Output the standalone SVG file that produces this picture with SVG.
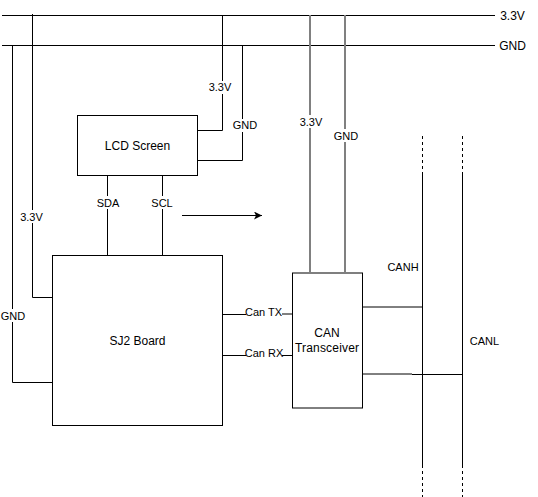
<svg xmlns="http://www.w3.org/2000/svg" width="538" height="497" viewBox="0 0 538 497">
<style>
.w{fill:none;stroke:#000;stroke-width:1}
.g{fill:none;stroke:#808080;stroke-width:2}
.d{fill:none;stroke:#000;stroke-width:1;stroke-dasharray:3 3}
.n{fill:#fff;stroke:#000;stroke-width:1}
text{font-family:"Liberation Sans",Arial,sans-serif;font-size:11px;fill:#000;text-anchor:middle}
.l{font-size:12px}
.bg{fill:#fff;stroke:none}
</style>
<defs><marker id="a" markerUnits="userSpaceOnUse" markerWidth="9" markerHeight="8" refX="8" refY="4" orient="auto"><path d="M0 0L8 4L0 8L2 4Z" fill="#000"/></marker></defs>
<rect width="538" height="497" fill="#fff"/>
<g id="connectors">
<path class="w" d="M2 15.500H495M2 45.500H495"/>
<path class="w" d="M32.500 14V297.500H52M12.500 45.500V382.500H52"/>
<path class="w" d="M222.500 15V130.500H197M242.500 45V160.500H197"/>
<path class="w" d="M107.500 175V255M162.500 175V255"/>
<path class="w" d="M182 215.500H262" marker-end="url(#a)"/>
<path class="g" d="M310 15V272M345 15V272"/>
<path class="w" d="M222 314.500H246M222 355.500H292"/>
<path class="w" d="M282 314H292"/>
<path class="w" d="M422.500 172V465M462.500 172V465"/>
<path class="d" d="M422.500 136V172M462.500 136V172M422.500 465V497M462.500 465V497"/>
<path class="w" d="M362 307H422M362 374H412"/>
<path class="w" d="M412 374.500H462"/>
</g>
<g id="lcd"><rect class="n" x="77.500" y="115.500" width="120" height="60"/><text class="l" x="137.500" y="150">LCD Screen</text></g>
<g id="sj2"><rect class="n" x="52.500" y="255.500" width="170" height="170"/><text class="l" x="137.500" y="345">SJ2 Board</text></g>
<g id="can"><rect class="n" x="292.500" y="273" width="70" height="135"/><text class="l" x="327" y="337">CAN</text><text class="l" x="327" y="352" textLength="64">Transceiver</text></g>
<g id="labels">
<rect class="bg" x="497" y="8" width="30" height="44"/>
<text class="l" x="512.500" y="20">3.3V</text><text class="l" x="512.500" y="50">GND</text>
<rect class="bg" x="208" y="81" width="24" height="13"/><text x="220" y="91">3.3V</text>
<rect class="bg" x="233" y="119" width="23" height="13"/><text x="245" y="129">GND</text>
<rect class="bg" x="96" y="196" width="23" height="13"/><text x="108" y="207">SDA</text>
<rect class="bg" x="151" y="196" width="22" height="13"/><text x="162" y="207">SCL</text>
<rect class="bg" x="20" y="210" width="24" height="13"/><text x="31.500" y="221">3.3V</text>
<rect class="bg" x="1" y="309" width="24" height="13"/><text x="13" y="320">GND</text>
<rect class="bg" x="298" y="115" width="24" height="13"/><text x="311" y="126">3.3V</text>
<rect class="bg" x="334" y="129" width="23" height="13"/><text x="346" y="140">GND</text>
<text x="263.500" y="316">Can TX</text>
<rect class="bg" x="246" y="347" width="36" height="13"/><text x="264" y="357">Can RX</text>
<text x="403" y="271">CANH</text>
<text x="484.500" y="345">CANL</text>
</g>
</svg>
